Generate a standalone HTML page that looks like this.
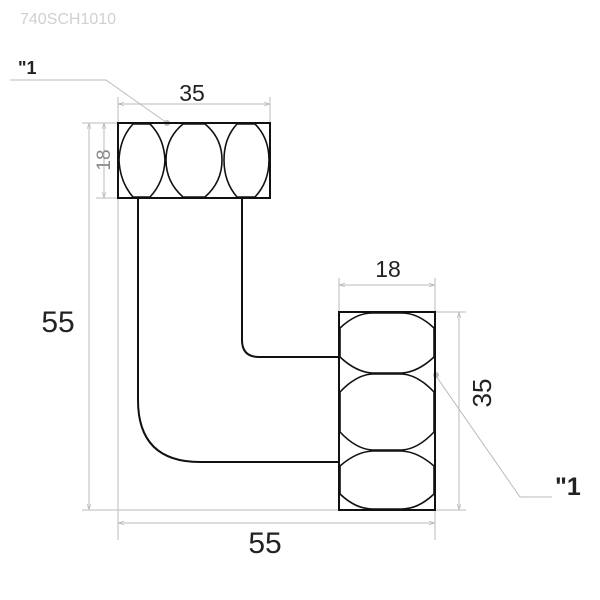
<!DOCTYPE html>
<html><head><style>body{margin:0;background:#fff}svg{display:block}</style></head><body>
<svg width="600" height="600" viewBox="0 0 600 600" xmlns="http://www.w3.org/2000/svg" font-family="Liberation Sans, sans-serif">
<defs><marker id="a" viewBox="0 0 10 10" refX="10" refY="5" markerWidth="6" markerHeight="6" orient="auto-start-reverse"><path d="M0 2 L10 5 L0 8" fill="none" stroke="#bbb" stroke-width="1.2"/></marker></defs>
<text x="20" y="24" font-size="16" fill="#d0d0d0">740SCH1010</text>
<g stroke="#bbb" stroke-width="1" fill="none">
<line x1="118" y1="97" x2="118" y2="540"/><line x1="270" y1="97" x2="270" y2="123"/>
<line x1="118" y1="104" x2="270" y2="104" marker-start="url(#a)" marker-end="url(#a)"/>
<line x1="96" y1="123" x2="118" y2="123"/><line x1="96" y1="198" x2="138" y2="198"/>
<line x1="104" y1="123" x2="104" y2="198" marker-start="url(#a)" marker-end="url(#a)"/>
<line x1="82" y1="123" x2="118" y2="123"/><line x1="82" y1="510" x2="339" y2="510"/>
<line x1="89" y1="123" x2="89" y2="510" marker-start="url(#a)" marker-end="url(#a)"/>
<line x1="118" y1="523" x2="435" y2="523" marker-start="url(#a)" marker-end="url(#a)"/><line x1="435" y1="510" x2="435" y2="540"/>
<line x1="339" y1="278" x2="339" y2="312"/><line x1="435" y1="278" x2="435" y2="312"/>
<line x1="339" y1="285" x2="435" y2="285" marker-start="url(#a)" marker-end="url(#a)"/>
<line x1="435" y1="312" x2="466" y2="312"/><line x1="435" y1="510" x2="466" y2="510"/>
<line x1="459" y1="312" x2="459" y2="510" marker-start="url(#a)" marker-end="url(#a)"/>
<polyline points="10,80 106,80 167,123"/>
<polyline points="436,376 520,497 552,497"/>
</g>
<circle cx="167" cy="123" r="3" fill="#bbb"/><circle cx="436" cy="375" r="3" fill="#bbb"/>
<g fill="#222">
<text x="192" y="101" text-anchor="middle" font-size="23">35</text>
<text x="388" y="277" text-anchor="middle" font-size="23">18</text>
<text x="58" y="332" text-anchor="middle" font-size="30">55</text>
<text x="265" y="553" text-anchor="middle" font-size="30">55</text>
<text transform="translate(110,160) rotate(-90)" text-anchor="middle" font-size="19" fill="#888">18</text>
<text transform="translate(491,393) rotate(-90)" text-anchor="middle" font-size="26">35</text>
<text x="18" y="74" font-size="18" font-weight="bold">"1</text>
<text x="555" y="495" font-size="25" font-weight="bold">"1</text>
</g>
<g stroke="#111" stroke-width="2" fill="none">
<path d="M138 198 V400 Q138 462 200 462 H339"/>
<path d="M242 198 V340 Q242 357 259 357 H339"/>
<rect x="118" y="123" width="152" height="75"/>
<rect x="339" y="312" width="96" height="198"/>
<g stroke-width="1.6">
<path d="M133 124 L150 124 Q164 138 165 160 Q164 182 150 197 L133 197 Q120 182 119 160 Q120 138 133 124Z"/>
<path d="M183 124 L205 124 Q222 138 222 160 Q222 182 205 197 L183 197 Q166 182 166 160 Q166 138 183 124Z"/>
<path d="M237 124 L255 124 Q269 138 269 160 Q269 182 255 197 L237 197 Q224 182 224 160 Q224 138 237 124Z"/>
<path d="M340 328 L340 357 Q356 372 372 373 L402 373 Q418 372 434 357 L434 328 Q418 313 402 313 L372 313 Q356 313 340 328Z"/>
<path d="M340 392 L340 432 Q356 449 372 450 L402 450 Q418 449 434 432 L434 392 Q418 375 402 374 L372 374 Q356 375 340 392Z"/>
<path d="M340 466 L340 494 Q356 509 372 509 L402 509 Q418 509 434 494 L434 466 Q418 452 402 451 L372 451 Q356 452 340 466Z"/>
</g>
</g>
</svg>
</body></html>
